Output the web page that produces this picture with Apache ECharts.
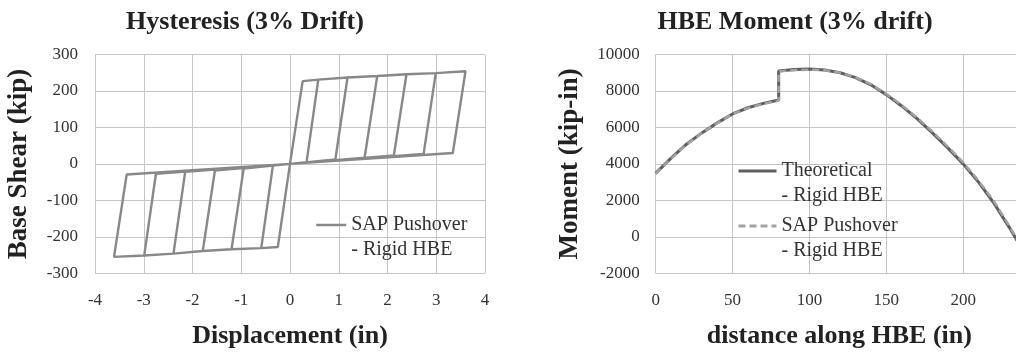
<!DOCTYPE html>
<html><head><meta charset="utf-8">
<script src="https://cdn.jsdelivr.net/npm/echarts@6/dist/echarts.min.js"></script>
<style>html,body{margin:0;padding:0;background:#fff}#c{width:1016px;height:352px}</style>
</head><body><div id="c"></div><script>
// ---- Hysteresis (3% Drift): loop vertices ----
var posTopX = [0.26, 0.58, 1.18, 1.79, 2.39, 2.99, 3.60];
var posTopY = [227, 231, 237, 241, 246, 249, 254];
var posLowX = [0, 0.34, 0.93, 1.53, 2.13, 2.74, 3.34];
var posLowY = [0, 5, 12, 17, 23, 27, 30];
var negTopX = [-0.25, -0.59, -1.20, -1.79, -2.39, -2.99, -3.61];
var negTopY = [-228, -231, -234, -239, -246, -251, -255];
var negLowX = [0, -0.35, -0.95, -1.54, -2.15, -2.75, -3.35];
var negLowY = [0, -4, -13, -18, -22, -27, -29];

// ---- HBE Moment (3% drift) ----
var theoX = [0,10,20,30,40,50,60,70,80,80,90,100,110,120,130,140,150,160,170,180,190,200,210,220,230,240];
var theoY = [3480,4320,5080,5700,6250,6740,7080,7320,7500,9100,9180,9200,9150,9000,8730,8340,7800,7180,6480,5700,4880,4000,3000,1850,520,-900];
var sapX  = [0,10,20,30,40,50,60,70,80,80,90,100,110,120,130,140,150,160,170,180,190,200,210,220,230,240];
var sapY  = [3450,4300,5060,5690,6240,6730,7060,7300,7470,9080,9140,9170,9140,9000,8750,8370,7840,7230,6540,5770,4950,4080,3080,1950,600,-820];

// ---- labels ----
var titleL = 'Hysteresis (3% Drift)';
var titleR = 'HBE Moment (3% drift)';
var xNameL = 'Displacement (in)', yNameL = 'Base Shear (kip)';
var xNameR = 'distance along HBE (in)', yNameR = 'Moment (kip-in)';
var legHyst = ['SAP Pushover', '- Rigid HBE'];
var legTheo = ['Theoretical', '- Rigid HBE'];
var legSap = ['SAP Pushover', '- Rigid HBE'];

var FONT = 'Liberation Serif';

// build the hysteresis path from the vertex arrays
var hyst = [[0, 0]];
for (var k = 1; k < posTopX.length; k++) {
  hyst.push([posLowX[k-1], posLowY[k-1]]);
  hyst.push([posTopX[k-1], posTopY[k-1]]);
  hyst.push([posTopX[k], posTopY[k]]);
  hyst.push([posLowX[k], posLowY[k]]);
  hyst.push([0, 0]);
  hyst.push([negLowX[k-1], negLowY[k-1]]);
  hyst.push([negTopX[k-1], negTopY[k-1]]);
  hyst.push([negTopX[k], negTopY[k]]);
  hyst.push([negLowX[k], negLowY[k]]);
  hyst.push([0, 0]);
}
function pairs(xs, ys) { return xs.map(function (x, i) { return [x, ys[i]]; }); }

function textW(s, font) {
  var c = document.createElement('canvas').getContext('2d');
  c.font = font; return c.measureText(s).width;
}
var TFS = 26;
var tFont = 'bold ' + TFS + 'px "' + FONT + '"';

var axisLabel = { fontFamily: FONT, fontSize: 17, color: '#333',
  formatter: function (v) { return String(v); } };
var split = { show: true, lineStyle: { color: '#c6c6c6', width: 1 } };
function nameStyle(size) { return { fontFamily: FONT, fontSize: size, fontWeight: 'bold', color: '#222' }; }
function legText() { return { fontFamily: FONT, fontSize: 20, lineHeight: 25, color: '#333' }; }

var chart = echarts.init(document.getElementById('c'), null, { renderer: 'canvas' });
chart.setOption({
  animation: false,
  backgroundColor: '#fff',
  textStyle: { fontFamily: FONT },
  title: [
    { text: titleL, left: 245 - textW(titleL, tFont) / 2, top: 9, padding: 0,
      textStyle: { fontFamily: FONT, fontSize: TFS, fontWeight: 'bold', color: '#222' } },
    { text: titleR, left: 795 - textW(titleR, tFont) / 2, top: 9, padding: 0,
      textStyle: { fontFamily: FONT, fontSize: TFS, fontWeight: 'bold', color: '#222' } }
  ],
  grid: [
    { left: 95, top: 54.5, width: 390, height: 218.8, containLabel: false, outerBoundsMode: 'none' },
    { left: 655.7, top: 54.5, width: 384.3, height: 218.8, containLabel: false, outerBoundsMode: 'none' }
  ],
  xAxis: [
    { gridIndex: 0, type: 'value', min: -4, max: 4, interval: 1,
      name: xNameL, nameLocation: 'middle', nameGap: 50, nameTextStyle: nameStyle(26),
      axisLine: { show: false }, axisTick: { show: false },
      axisLabel: Object.assign({ margin: 19 }, axisLabel), splitLine: split },
    { gridIndex: 1, type: 'value', min: 0, max: 250, interval: 50,
      name: xNameR, nameLocation: 'middle', nameGap: 50,
      nameTextStyle: Object.assign({ padding: [0, 17, 0, 0] }, nameStyle(26)),
      axisLine: { show: false }, axisTick: { show: false },
      axisLabel: Object.assign({ margin: 19 }, axisLabel), splitLine: split }
  ],
  yAxis: [
    { gridIndex: 0, type: 'value', min: -300, max: 300, interval: 100,
      name: yNameL, nameLocation: 'middle', nameGap: 62, nameTextStyle: nameStyle(27),
      axisLine: { show: false }, axisTick: { show: false },
      axisLabel: Object.assign({ margin: 17 }, axisLabel), splitLine: split },
    { gridIndex: 1, type: 'value', min: -2000, max: 10000, interval: 2000,
      name: yNameR, nameLocation: 'middle', nameGap: 72, nameTextStyle: nameStyle(27),
      axisLine: { show: false }, axisTick: { show: false },
      axisLabel: Object.assign({ margin: 16 }, axisLabel), splitLine: split }
  ],
  legend: [
    { data: ['hyst'], left: 315, top: 225 - 37.5, padding: 0, itemWidth: 30, itemHeight: 12,
      itemStyle: { opacity: 0 }, lineStyle: { width: 2.5 },
      selectedMode: false, formatter: function () { return '\n' + legHyst.join('\n'); },
      textStyle: legText() },
    { data: ['theo'], left: 737, top: 171 - 37.5, padding: 0, itemWidth: 38, itemHeight: 12,
      itemStyle: { opacity: 0 }, lineStyle: { width: 3 },
      selectedMode: false, formatter: function () { return '\n' + legTheo.join('\n'); },
      textStyle: legText() },
    { data: ['sap'], left: 737, top: 226 - 37.5, padding: 0, itemWidth: 38, itemHeight: 12,
      itemStyle: { opacity: 0 }, lineStyle: { width: 3 },
      selectedMode: false, formatter: function () { return '\n' + legSap.join('\n'); },
      textStyle: legText() }
  ],
  series: [
    { name: 'hyst', type: 'line', xAxisIndex: 0, yAxisIndex: 0, data: hyst,
      symbol: 'none', showSymbol: false,
      lineStyle: { color: '#888888', width: 2.4 }, itemStyle: { color: '#888888' } },
    { name: 'theo', type: 'line', xAxisIndex: 1, yAxisIndex: 1, data: pairs(theoX, theoY),
      symbol: 'none', showSymbol: false,
      lineStyle: { color: '#5e5e5e', width: 3 }, itemStyle: { color: '#5e5e5e' } },
    { name: 'sap', type: 'line', xAxisIndex: 1, yAxisIndex: 1, data: pairs(sapX, sapY),
      symbol: 'none', showSymbol: false,
      lineStyle: { color: '#a2a2a2', width: 2.5, type: [7, 4] }, itemStyle: { color: '#a2a2a2' } }
  ]
});
</script></body></html>
